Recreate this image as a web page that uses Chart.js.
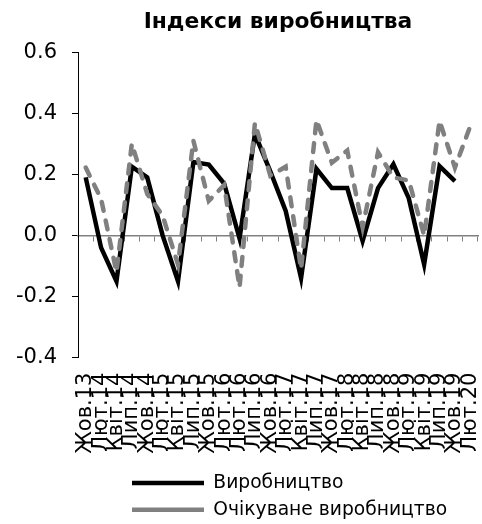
<!DOCTYPE html>
<html>
<head>
<meta charset="utf-8">
<script src="https://cdn.jsdelivr.net/npm/chart.js@4.4.1/dist/chart.umd.min.js"></script>
<style>
  html, body { margin: 0; padding: 0; background: #fff; }
  #wrap { width: 482px; height: 524px; position: relative; }
</style>
</head>
<body>
<div id="wrap"><canvas id="c"></canvas></div>
<script>
const chartTitle = 'Індекси виробництва';
const categories = ['Жов.13','Лют.14','Квіт.14','Лип.14','Жов.14','Лют.15','Квіт.15','Лип.15','Жов.15','Лют.16','Лют.16','Лип.16','Жов.16','Лют.17','Квіт.17','Лип.17','Жов.17','Лют.18','Квіт.18','Лип.18','Жов.18','Лют.19','Квіт.19','Лип.19','Жов.19','Лют.20'];
const seriesNames = ['Виробництво', 'Очікуване виробництво'];
const production = [0.19, -0.04, -0.15, 0.225, 0.19, 0.0, -0.15, 0.24, 0.232, 0.17, -0.01, 0.332, 0.21, 0.08, -0.14, 0.218, 0.155, 0.155, -0.018, 0.155, 0.233, 0.122, -0.095, 0.227, 0.178, null];
const expected = [0.222, 0.12, -0.12, 0.30, 0.136, 0.065, -0.095, 0.31, 0.113, 0.165, -0.17, 0.368, 0.196, 0.225, -0.11, 0.378, 0.238, 0.278, 0.027, 0.272, 0.19, 0.18, 0.0, 0.375, 0.222, 0.358];
const yTicks = { min: -0.4, max: 0.6, step: 0.2 };

Chart.defaults.font.family = 'DejaVu Sans';
Chart.defaults.color = '#000';

const legendShift = {
  id: 'legendShift',
  afterLayout(chart) {
    const lg = chart.legend;
    if (!lg) return;
    const dx = (chart.chartArea.left + 46) - lg.left;
    lg.left += dx;
    lg.right += dx;
  }
};

new Chart(document.getElementById('c'), {
  type: 'line',
  data: {
    labels: categories,
    datasets: [
      {
        label: seriesNames[0],
        data: production,
        borderColor: '#000',
        backgroundColor: '#000',
        borderWidth: 4.5,
        pointRadius: 0,
        pointStyle: 'line',
        tension: 0,
        order: 1
      },
      {
        label: seriesNames[1],
        data: expected,
        borderColor: '#808080',
        backgroundColor: '#808080',
        borderWidth: 4.5,
        borderDash: [9, 10],
        borderCapStyle: 'round',
        pointRadius: 0,
        pointStyle: 'line',
        tension: 0,
        order: 0
      }
    ]
  },
  options: {
    responsive: true,
    maintainAspectRatio: false,
    animation: false,
    layout: { padding: { top: 0, bottom: -5, left: 0, right: 4 } },
    plugins: {
      title: {
        display: true,
        text: chartTitle,
        fullSize: false,
        font: { size: 21.8, weight: 'bold' },
        color: '#000',
        padding: { top: 9, bottom: 17 }
      },
      legend: {
        position: 'bottom',
        align: 'start',
        labels: {
          usePointStyle: true,
          pointStyleWidth: 72,
          padding: 8,
          color: '#000',
          font: { size: 18.7 },
          sort: (a, b) => a.datasetIndex - b.datasetIndex
        }
      },
      tooltip: { enabled: false }
    },
    scales: {
      x: {
        type: 'category',
        position: 'bottom',
        offset: true,
        grid: { display: false, drawTicks: false },
        border: { display: false },
        ticks: {
          autoSkip: false,
          minRotation: 90,
          maxRotation: 90,
          padding: 15,
          font: { size: 21 },
          color: '#000'
        },
        afterFit(scale) {
          scale.height = 108;
          scale.paddingLeft = 0;
          scale.paddingRight = 0;
        }
      },
      x2: {
        type: 'category',
        axis: 'x',
        labels: categories,
        position: { y: 0 },
        offset: true,
        grid: { display: true, offset: true, drawOnChartArea: false, drawTicks: true, tickLength: 5, color: '#808080', lineWidth: 1 },
        border: { display: true, color: '#808080', width: 1.5 },
        ticks: { display: false },
        afterFit(scale) {
          scale.paddingLeft = 0;
          scale.paddingRight = 0;
        }
      },
      y: {
        min: yTicks.min,
        max: yTicks.max,
        grid: { drawOnChartArea: false, drawTicks: true, tickLength: 6, color: '#000' },
        border: { display: true, color: '#000', width: 1 },
        ticks: {
          stepSize: yTicks.step,
          padding: 15,
          font: { size: 21 },
          color: '#000',
          callback: (v) => Number(v).toFixed(1)
        },
        afterFit(scale) { scale.width = 78; }
      }
    }
  },
  plugins: [legendShift]
});
</script>
</body>
</html>
